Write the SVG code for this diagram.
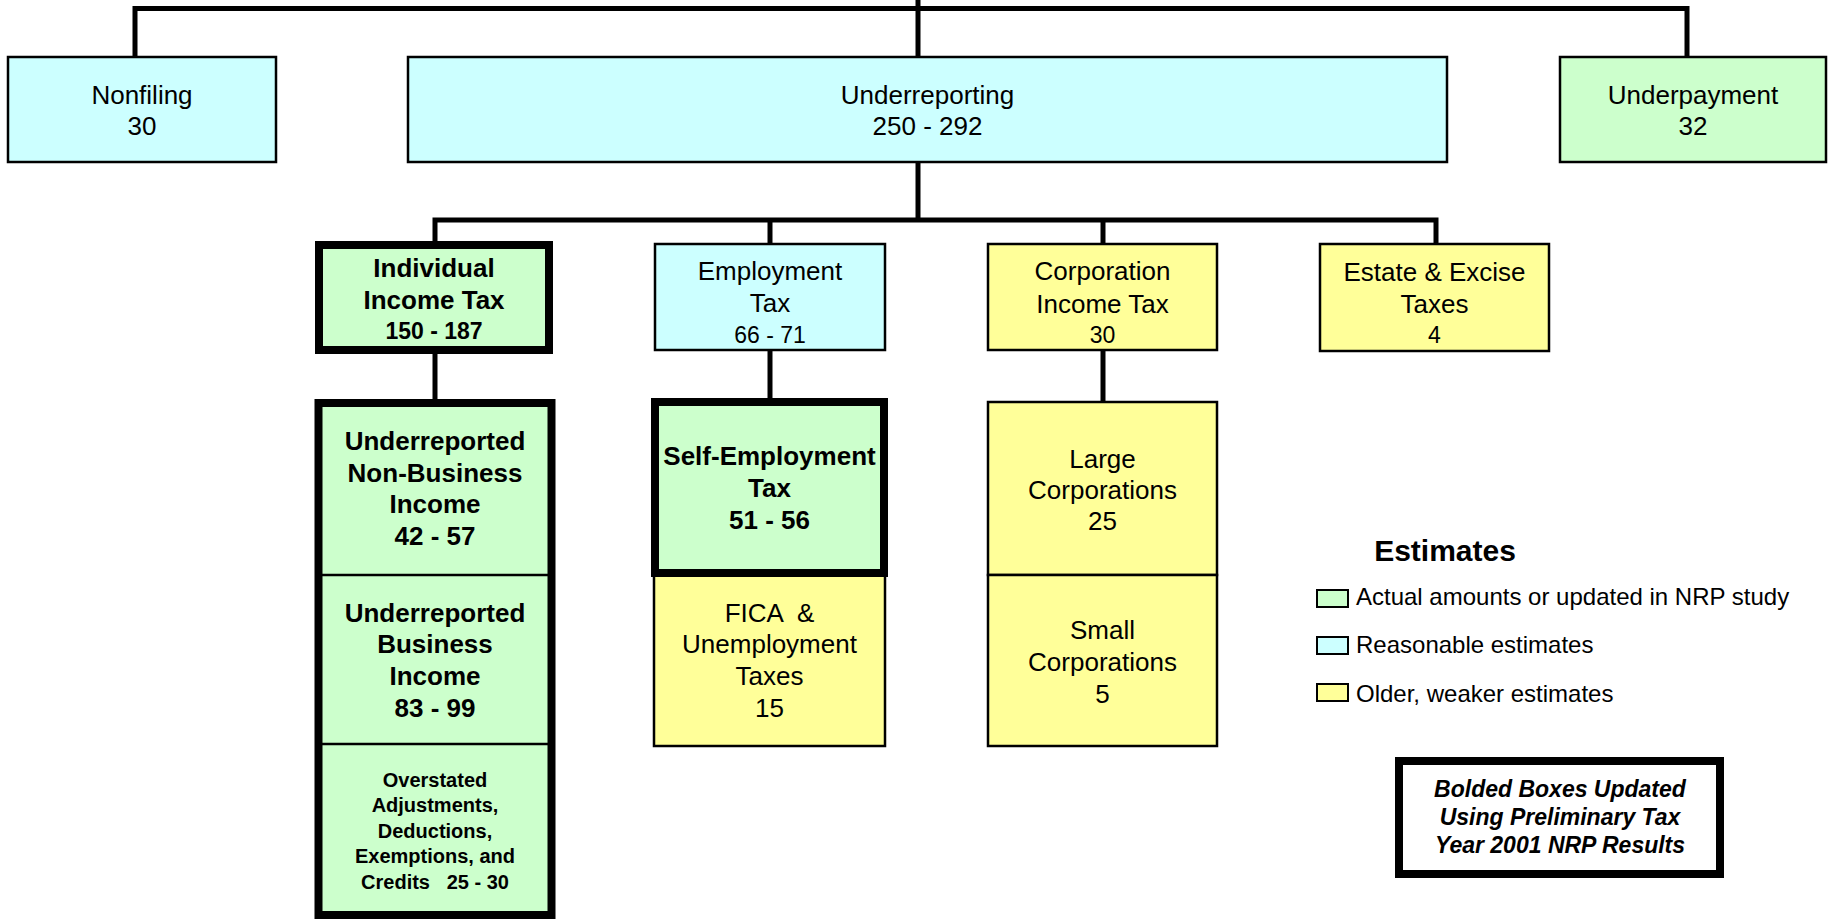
<svg xmlns="http://www.w3.org/2000/svg" width="1829" height="920" viewBox="0 0 1829 920">
<style>
text{font-family:"Liberation Sans",Arial,sans-serif;fill:#000;text-anchor:middle}
.r{font-size:26px}
.n{font-size:23px}
.b{font-size:26px;font-weight:bold}
.bn{font-size:23px;font-weight:bold}
.s{font-size:20px;font-weight:bold}
.lg{font-size:24px;text-anchor:start}
.cy{fill:#CCFFFF}
.gr{fill:#CCFFCC}
.ye{fill:#FFFF99}
.thin{stroke:#000;stroke-width:2.5}
.thick{stroke:#000;stroke-width:8}
.conn{stroke:#000;stroke-width:5;fill:none}
</style>
<rect width="1829" height="920" fill="#fff"/>
<g id="connectors" class="conn">
<polyline points="135,56 135,8.5 1687,8.5 1687,56"/>
<line x1="918" y1="0" x2="918" y2="56"/>
<line x1="918" y1="163" x2="918" y2="220"/>
<polyline points="435,241 435,220 1436,220 1436,243"/>
<line x1="770" y1="220" x2="770" y2="243"/>
<line x1="1103" y1="220" x2="1103" y2="243"/>
<line x1="435" y1="354" x2="435" y2="399"/>
<line x1="770" y1="351" x2="770" y2="398"/>
<line x1="1103" y1="351" x2="1103" y2="401"/>
</g>
<g id="nonfiling">
<rect x="8" y="57" width="268" height="105" class="cy thin"/>
<text class="r" x="142" y="104">Nonfiling</text>
<text class="r" x="142" y="135">30</text>
</g>
<g id="underreporting">
<rect x="408" y="57" width="1039" height="105" class="cy thin"/>
<text class="r" x="927.5" y="104">Underreporting</text>
<text class="r" x="927.5" y="135">250 - 292</text>
</g>
<g id="underpayment">
<rect x="1560" y="57" width="266" height="105" class="gr thin"/>
<text class="r" x="1693" y="104">Underpayment</text>
<text class="r" x="1693" y="135">32</text>
</g>
<g id="individual">
<rect x="319" y="245" width="230" height="105" class="gr thick"/>
<text class="b" x="434" y="277">Individual</text>
<text class="b" x="434" y="309">Income Tax</text>
<text class="bn" x="434" y="339">150 - 187</text>
</g>
<g id="employment">
<rect x="655" y="244" width="230" height="106" class="cy thin"/>
<text class="r" x="770" y="280">Employment</text>
<text class="r" x="770" y="312">Tax</text>
<text class="n" x="770" y="343">66 - 71</text>
</g>
<g id="corporation">
<rect x="988" y="244" width="229" height="106" class="ye thin"/>
<text class="r" x="1102.5" y="280">Corporation</text>
<text class="r" x="1102.5" y="313">Income Tax</text>
<text class="n" x="1102.5" y="343">30</text>
</g>
<g id="estate">
<rect x="1320" y="244" width="229" height="107" class="ye thin"/>
<text class="r" x="1434.5" y="281">Estate &amp; Excise</text>
<text class="r" x="1434.5" y="313">Taxes</text>
<text class="n" x="1434.5" y="343">4</text>
</g>
<g id="individual-components">
<rect x="318.5" y="403" width="233" height="512" class="gr thick"/>
<line x1="318.5" y1="575" x2="551.5" y2="575" class="thin"/>
<line x1="318.5" y1="744" x2="551.5" y2="744" class="thin"/>
</g>
<g id="nonbusiness">
<text class="b" x="435" y="450">Underreported</text>
<text class="b" x="435" y="482">Non-Business</text>
<text class="b" x="435" y="513">Income</text>
<text class="b" x="435" y="545">42 - 57</text>
</g>
<g id="business">
<text class="b" x="435" y="622">Underreported</text>
<text class="b" x="435" y="653">Business</text>
<text class="b" x="435" y="685">Income</text>
<text class="b" x="435" y="717">83 - 99</text>
</g>
<g id="overstated">
<text class="s" x="435" y="787">Overstated</text>
<text class="s" x="435" y="812">Adjustments,</text>
<text class="s" x="435" y="838">Deductions,</text>
<text class="s" x="435" y="863">Exemptions, and</text>
<text class="s" x="435" y="889" xml:space="preserve">Credits   25 - 30</text>
</g>
<g id="fica">
<rect x="654" y="575" width="231" height="171" class="ye thin"/>
<text class="r" x="769.5" y="622" xml:space="preserve">FICA  &amp;</text>
<text class="r" x="769.5" y="653">Unemployment</text>
<text class="r" x="769.5" y="685">Taxes</text>
<text class="r" x="769.5" y="717">15</text>
</g>
<g id="self-employment">
<rect x="655" y="402" width="229" height="171" class="gr thick"/>
<text class="b" x="769.5" y="465">Self-Employment</text>
<text class="b" x="769.5" y="497">Tax</text>
<text class="b" x="769.5" y="529">51 - 56</text>
</g>
<g id="large-corporations">
<rect x="988" y="402" width="229" height="173" class="ye thin"/>
<text class="r" x="1102.5" y="468">Large</text>
<text class="r" x="1102.5" y="499">Corporations</text>
<text class="r" x="1102.5" y="530">25</text>
</g>
<g id="small-corporations">
<rect x="988" y="575" width="229" height="171" class="ye thin"/>
<text class="r" x="1102.5" y="639">Small</text>
<text class="r" x="1102.5" y="671">Corporations</text>
<text class="r" x="1102.5" y="703">5</text>
</g>
<g id="legend">
<text x="1445" y="561" style="font-size:30px;font-weight:bold">Estimates</text>
<rect x="1317" y="590" width="31" height="17" class="gr" stroke="#000" stroke-width="2"/>
<text class="lg" x="1356" y="605">Actual amounts or updated in NRP study</text>
<rect x="1317" y="637" width="31" height="17" class="cy" stroke="#000" stroke-width="2"/>
<text class="lg" x="1356" y="653">Reasonable estimates</text>
<rect x="1317" y="684" width="31" height="17" class="ye" stroke="#000" stroke-width="2"/>
<text class="lg" x="1356" y="702">Older, weaker estimates</text>
</g>
<g id="note">
<rect x="1399" y="761" width="321" height="113" fill="#fff" class="thick"/>
<text class="bn" x="1560" y="797" font-style="italic">Bolded Boxes Updated</text>
<text class="bn" x="1560" y="825" font-style="italic">Using Preliminary Tax</text>
<text class="bn" x="1560" y="853" font-style="italic">Year 2001 NRP Results</text>
</g>
</svg>
